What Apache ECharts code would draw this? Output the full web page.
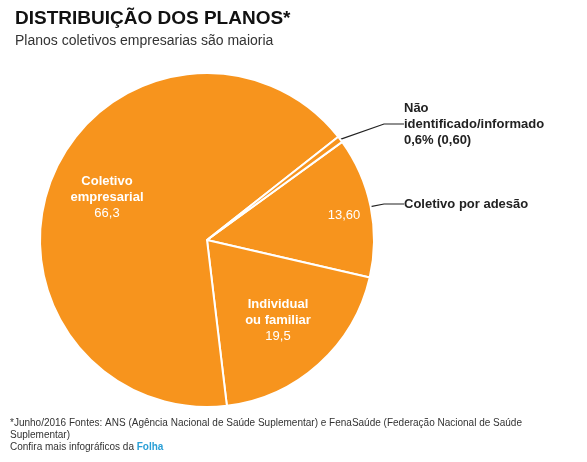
<!DOCTYPE html>
<html lang="pt">
<head>
    <meta charset="UTF-8">
    <title>Distribuição dos planos</title>
    <script src="https://cdn.jsdelivr.net/npm/echarts@6/dist/echarts.min.js"></script>
    <style>
        body { margin: 0; background: #fff; }
        #chart { width: 587px; height: 462px; }
    </style>
</head>
<body>
<div id="chart"></div>
<script>
    // order follows the pie clockwise
    var names = ['Coletivo por adesão', 'Individual\nou familiar', 'Coletivo\nempresarial', 'Não\nidentificado/informado'];
    var values = [13.6, 19.5, 66.3, 0.6];
    var innerLabels = ['13,60', '{b|Individual}\n{b|ou familiar}\n19,5', '{b|Coletivo}\n{b|empresarial}\n66,3', ''];
    var outerLabels = ['Coletivo por adesão', '', '', 'Não\nidentificado/informado\n0,6% (0,60)'];

    var innerPos = [[344, 215], [278, 320], [107, 197], null];
    var outerPos = [[404, 204], null, null, [404, 124]];

    var orange = '#F7941D';
    var chart = echarts.init(document.getElementById('chart'));

    chart.setOption({
        animation: false,
        title: {
            text: 'DISTRIBUIÇÃO DOS PLANOS*',
            subtext: 'Planos coletivos empresarias são maioria',
            left: 10, top: 4, itemGap: 6,
            textStyle: { fontFamily: 'Liberation Sans', fontSize: 19, fontWeight: 'bold', color: '#111' },
            subtextStyle: { fontFamily: 'Liberation Sans', fontSize: 14, color: '#333' }
        },
        graphic: [{
            type: 'text', left: 10, top: 417,
            style: {
                text: '*Junho/2016 Fontes: ANS (Agência Nacional de Saúde Suplementar) e FenaSaúde (Federação Nacional de Saúde\nSuplementar)\nConfira mais infográficos da {f|Folha}',
                font: '10px "Liberation Sans"', fill: '#333', lineHeight: 12,
                rich: { f: { fontWeight: 'bold', fill: '#2a9fd6', fontSize: 10, fontFamily: 'Liberation Sans' } }
            }
        }],
        series: [{
            type: 'pie',
            center: [207, 240],
            radius: [0, 167],
            startAngle: 36,
            clockwise: true,
            silent: true,
            itemStyle: { color: orange, borderColor: '#fff', borderWidth: 2 },
            label: {
                position: 'inside',
                color: '#fff', fontSize: 13, fontFamily: 'Liberation Sans', lineHeight: 16,
                formatter: function (p) { return innerLabels[p.dataIndex]; },
                rich: { b: { color: '#fff', fontWeight: 'bold', fontSize: 13, fontFamily: 'Liberation Sans', lineHeight: 16 } }
            },
            labelLayout: function (p) {
                var pos = innerPos[p.dataIndex];
                return pos ? { x: pos[0], y: pos[1], align: 'center', verticalAlign: 'middle' } : {};
            },
            data: values.map(function (v, i) { return { name: names[i], value: v }; })
        }, {
            type: 'pie',
            center: [207, 240],
            radius: [0, 167],
            startAngle: 36,
            clockwise: true,
            silent: true,
            itemStyle: { color: 'rgba(0,0,0,0)', borderWidth: 0 },
            label: {
                position: 'outside',
                color: '#222', fontSize: 13, fontWeight: 'bold', fontFamily: 'Liberation Sans', lineHeight: 16,
                formatter: function (p) { return outerLabels[p.dataIndex]; }
            },
            labelLine: { show: true, length: 8, length2: 20, lineStyle: { color: '#222', width: 1.2 } },
            labelLayout: function (p) {
                var pos = outerPos[p.dataIndex];
                return pos ? { x: pos[0], y: pos[1], align: 'left', verticalAlign: 'middle' } : {};
            },
            data: values.map(function (v, i) {
                var d = { name: names[i], value: v };
                if (!outerLabels[i]) { d.label = { show: false }; d.labelLine = { show: false }; }
                return d;
            })
        }]
    });
</script>
</body>
</html>
